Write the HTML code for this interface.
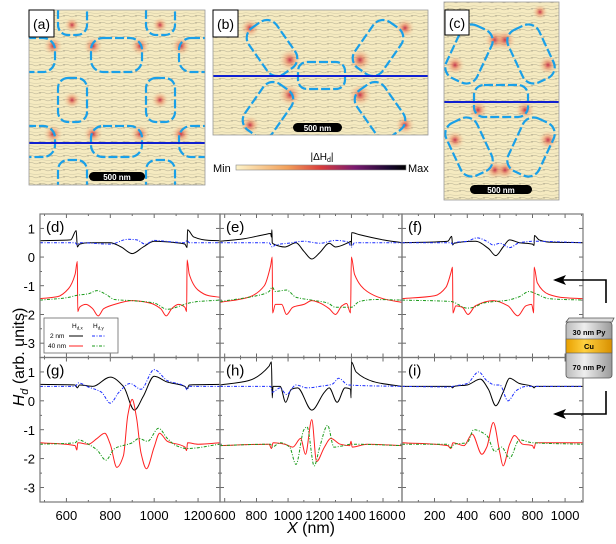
<!DOCTYPE html>
<html><head><meta charset="utf-8"><style>
html,body{margin:0;padding:0;background:#fff;width:616px;height:544px;overflow:hidden;font-family:"Liberation Sans",sans-serif}
</style></head><body>
<svg id="fig" width="616" height="544" viewBox="0 0 616 544" xmlns="http://www.w3.org/2000/svg" font-family="Liberation Sans, sans-serif">
<defs>
<pattern id="stream" width="12" height="7" patternUnits="userSpaceOnUse">
<path d="M0 3 Q6 0 12 3" fill="none" stroke="#6a6a5a" stroke-width="0.5" opacity="0.5"/>
<path d="M0 6.5 Q6 5 12 6.5" fill="none" stroke="#6a6a5a" stroke-width="0.4" opacity="0.35"/>
<circle cx="4" cy="2" r="0.5" fill="#222" opacity="0.6"/>
</pattern>
<radialGradient id="glow"><stop offset="0" stop-color="#c02040" stop-opacity="0.9"/><stop offset="0.4" stop-color="#e8704a" stop-opacity="0.45"/><stop offset="1" stop-color="#f3e3b0" stop-opacity="0"/></radialGradient>
<linearGradient id="cbar" x1="0" x2="1"><stop offset="0" stop-color="#fdf3c8"/><stop offset="0.3" stop-color="#f2a05a"/><stop offset="0.5" stop-color="#d83c3c"/><stop offset="0.7" stop-color="#7a1a70"/><stop offset="0.9" stop-color="#1a0830"/><stop offset="1" stop-color="#000"/></linearGradient>
<linearGradient id="cyl" x1="0" x2="1"><stop offset="0" stop-color="#bbb"/><stop offset="0.4" stop-color="#eee"/><stop offset="1" stop-color="#999"/></linearGradient>
<linearGradient id="cu" x1="0" x2="1"><stop offset="0" stop-color="#e8a000"/><stop offset="0.4" stop-color="#ffd040"/><stop offset="1" stop-color="#d89000"/></linearGradient>
<clipPath id="clipA"><rect x="29" y="10" width="176" height="175"/></clipPath>
<clipPath id="clipB"><rect x="213" y="10" width="215" height="125"/></clipPath>
<clipPath id="clipC"><rect x="444" y="2" width="115" height="198"/></clipPath>
</defs>

<!-- Top images -->
<g id="imgA">
<g clip-path="url(#clipA)">
<rect x="29" y="10" width="176" height="175" fill="#f5eac0"/>
<rect x="29" y="10" width="176" height="175" fill="url(#stream)"/>
<g fill="url(#glow)">
<circle cx="93" cy="46" r="10"/><circle cx="140" cy="46" r="10"/><circle cx="93" cy="134" r="10"/><circle cx="140" cy="134" r="10"/>
<circle cx="53" cy="46" r="10"/><circle cx="181" cy="46" r="10"/><circle cx="53" cy="134" r="10"/><circle cx="181" cy="134" r="10"/>
<circle cx="72" cy="100" r="9"/><circle cx="160" cy="100" r="9"/><circle cx="72" cy="25" r="8"/><circle cx="160" cy="25" r="8"/>
</g>
<g fill="none" stroke="#1aa0e8" stroke-width="2.2" stroke-dasharray="9,3">
<rect x="58" y="2" width="29" height="33" rx="10"/><rect x="146" y="2" width="29" height="33" rx="10"/>
<rect x="91" y="38" width="51" height="34" rx="12"/><rect x="3" y="38" width="52" height="34" rx="12"/><rect x="179" y="38" width="52" height="34" rx="12"/>
<rect x="58" y="78" width="29" height="44" rx="10"/><rect x="146" y="78" width="29" height="44" rx="10"/>
<rect x="91" y="126" width="51" height="31" rx="12"/><rect x="3" y="126" width="52" height="31" rx="12"/><rect x="179" y="126" width="52" height="31" rx="12"/>
<rect x="58" y="160" width="29" height="40" rx="10"/><rect x="146" y="160" width="29" height="40" rx="10"/>
</g>
<line x1="29" y1="143" x2="205" y2="143" stroke="#1020d0" stroke-width="2"/>
</g>
<rect x="29" y="10" width="176" height="175" fill="none" stroke="#999" stroke-width="0.8"/>
<rect x="89" y="172" width="56" height="9" rx="4.5" fill="#000"/>
<text x="117" y="180" font-size="8" font-weight="bold" fill="#fff" text-anchor="middle">500 nm</text>
<rect x="29" y="10" width="25" height="27" fill="#fff" stroke="#000" stroke-width="1"/>
<text x="41.5" y="29" font-size="14" text-anchor="middle">(a)</text>
</g>

<g id="imgB">
<g clip-path="url(#clipB)">
<rect x="213" y="10" width="215" height="125" fill="#f5eac0"/>
<rect x="213" y="10" width="215" height="125" fill="url(#stream)"/>
<g fill="url(#glow)">
<circle cx="290" cy="60" r="12"/><circle cx="360" cy="60" r="12"/><circle cx="290" cy="95" r="12"/><circle cx="360" cy="95" r="12"/>
<circle cx="250" cy="28" r="10"/><circle cx="405" cy="28" r="10"/><circle cx="250" cy="125" r="10"/><circle cx="405" cy="125" r="10"/>
</g>
<g fill="none" stroke="#1aa0e8" stroke-width="2.2" stroke-dasharray="9,3">
<rect x="255" y="20" width="34" height="56" rx="12" transform="rotate(-35 272 48)"/>
<rect x="361" y="20" width="34" height="56" rx="12" transform="rotate(35 378 48)"/>
<rect x="251" y="82" width="34" height="56" rx="12" transform="rotate(35 268 110)"/>
<rect x="363" y="82" width="34" height="56" rx="12" transform="rotate(-35 380 110)"/>
<rect x="298" y="62" width="47" height="27" rx="9"/>
</g>
<line x1="213" y1="76" x2="428" y2="76" stroke="#1020d0" stroke-width="2"/>
</g>
<rect x="213" y="10" width="215" height="125" fill="none" stroke="#999" stroke-width="0.8"/>
<rect x="293" y="123" width="49" height="9" rx="4.5" fill="#000"/>
<text x="317.5" y="131" font-size="8" font-weight="bold" fill="#fff" text-anchor="middle">500 nm</text>
<rect x="213" y="10" width="25" height="27" fill="#fff" stroke="#000" stroke-width="1"/>
<text x="225.5" y="29" font-size="14" text-anchor="middle">(b)</text>
</g>

<g id="colorbar">
<text x="322" y="160" font-size="10" text-anchor="middle">|ΔH<tspan font-size="7" dy="2">d</tspan><tspan dy="-2">|</tspan></text>
<text x="213" y="172" font-size="11">Min</text>
<rect x="236" y="165" width="170" height="5" fill="url(#cbar)" stroke="#888" stroke-width="0.6"/>
<text x="408" y="172" font-size="11">Max</text>
</g>

<g id="imgC">
<g clip-path="url(#clipC)">
<rect x="444" y="2" width="115" height="198" fill="#f5eac0"/>
<rect x="444" y="2" width="115" height="198" fill="url(#stream)"/>
<g fill="url(#glow)">
<circle cx="495" cy="40" r="11"/><circle cx="505" cy="40" r="11"/><circle cx="455" cy="65" r="10"/><circle cx="548" cy="65" r="10"/>
<circle cx="478" cy="110" r="10"/><circle cx="525" cy="110" r="10"/><circle cx="455" cy="140" r="10"/><circle cx="548" cy="140" r="10"/>
<circle cx="495" cy="170" r="10"/><circle cx="505" cy="170" r="10"/><circle cx="540" cy="12" r="8"/>
</g>
<g fill="none" stroke="#1aa0e8" stroke-width="2.2" stroke-dasharray="9,3">
<rect x="452" y="25" width="34" height="58" rx="12" transform="rotate(25 469 54)"/>
<rect x="514" y="25" width="34" height="58" rx="12" transform="rotate(-25 531 54)"/>
<rect x="474" y="85" width="54" height="32" rx="10"/>
<rect x="452" y="118" width="34" height="58" rx="12" transform="rotate(-25 469 147)"/>
<rect x="514" y="118" width="34" height="58" rx="12" transform="rotate(25 531 147)"/>
</g>
<line x1="444" y1="102" x2="559" y2="102" stroke="#1020d0" stroke-width="2"/>
</g>
<rect x="444" y="2" width="115" height="198" fill="none" stroke="#999" stroke-width="0.8"/>
<rect x="470" y="185" width="62" height="9" rx="4.5" fill="#000"/>
<text x="501" y="193" font-size="8" font-weight="bold" fill="#fff" text-anchor="middle">500 nm</text>
<rect x="445" y="10" width="24" height="25" fill="#fff" stroke="#000" stroke-width="1"/>
<text x="457" y="28" font-size="14" text-anchor="middle">(c)</text>
</g>

<g id="plots"></g>

<text transform="translate(24 357) rotate(-90)" font-size="16" text-anchor="middle"><tspan font-style="italic">H</tspan><tspan font-style="italic" font-size="11" dy="4">d</tspan><tspan dy="-4"> (arb. units)</tspan></text>
<text x="311" y="533" font-size="16" text-anchor="middle"><tspan font-style="italic">X</tspan> (nm)</text>

<g id="legend">
<rect x="44" y="318" width="74" height="35" fill="#fff" stroke="#666" stroke-width="0.8"/>
<text x="72" y="328" font-size="6.5">H<tspan font-size="4.5" dy="1.5">d,x</tspan></text>
<text x="93" y="328" font-size="6.5">H<tspan font-size="4.5" dy="1.5">d,y</tspan></text>
<text x="50" y="338" font-size="6.5">2 nm</text>
<line x1="69" y1="336" x2="83" y2="336" stroke="#000" stroke-width="1"/>
<line x1="92" y1="336" x2="106" y2="336" stroke="#1a2cff" stroke-width="1" stroke-dasharray="3,1.5,1,1.5"/>
<text x="48" y="348" font-size="6.5">40 nm</text>
<line x1="69" y1="346" x2="83" y2="346" stroke="#ff2020" stroke-width="1"/>
<line x1="92" y1="346" x2="106" y2="346" stroke="#1a9a1a" stroke-width="1" stroke-dasharray="3,1.5,1,1.5"/>
</g>

<g id="stack">
<path d="M555 280 H606 V303" fill="none" stroke="#000" stroke-width="1.6"/>
<path d="M553 280 L566 275 L563 280 L566 285 Z" fill="#000"/>
<path d="M555 414 H606 V391" fill="none" stroke="#000" stroke-width="1.6"/>
<path d="M553 414 L566 409 L563 414 L566 419 Z" fill="#000"/>
<path d="M566 322 L569 318 H614 L612 322 Z" fill="#ddd" stroke="#555" stroke-width="0.8"/>
<rect x="566" y="322" width="46" height="56" rx="3" fill="url(#cyl)" stroke="#555" stroke-width="0.8"/>
<rect x="566" y="339" width="46" height="14" fill="url(#cu)" stroke="#555" stroke-width="0.6"/>
<text x="589" y="335" font-size="7.5" font-weight="bold" text-anchor="middle">30 nm Py</text>
<text x="589" y="349" font-size="7.5" font-weight="bold" text-anchor="middle">Cu</text>
<text x="589" y="370" font-size="7.5" font-weight="bold" text-anchor="middle">70 nm Py</text>
</g>
</svg>
<script>
// ---- chart data ----
const panelLabels = ["(d)","(e)","(f)","(g)","(h)","(i)"];
const xRanges = [[480,1300],[570,1720],[0,1110],[480,1300],[570,1720],[0,1110]];
const xTicks = [[600,800,1000,1200],[600,800,1000,1200,1400,1600],[0,200,400,600,800,1000],[600,800,1000,1200],[600,800,1000,1200,1400,1600],[0,200,400,600,800,1000]];
const yTicks = [1,0,-1,-2,-3];
const yRange = [-3.5,1.5];
const blackD = [[480,0.57],[620,0.6],[645,0.92],[650,0.35],[660,0.45],[700,0.5],[800,0.5],[850,0.35],[900,0.12],[950,0.35],[1000,0.55],[1100,0.5],[1140,0.45],[1150,0.33],[1152,0.95],[1180,0.7],[1250,0.58],[1300,0.57]];
const blueD = [[480,0.5],[640,0.5],[650,0.42],[660,0.5],[800,0.45],[880,0.62],[920,0.6],[960,0.45],[1000,0.58],[1050,0.55],[1140,0.5],[1150,0.58],[1160,0.5],[1300,0.5]];
const redD = [[480,-1.45],[560,-1.38],[610,-1.1],[640,-0.6],[650,-0.15],[652,-1.9],[660,-1.75],[690,-1.65],[720,-1.8],[745,-2.05],[770,-1.8],[820,-1.65],[900,-1.52],[980,-1.6],[1030,-1.8],[1055,-2.05],[1080,-1.8],[1110,-1.65],[1140,-1.75],[1148,-1.9],[1150,-0.1],[1160,-0.6],[1200,-1.15],[1250,-1.35],[1300,-1.4]];
const greenD = [[480,-1.5],[600,-1.42],[650,-1.33],[700,-1.28],[740,-1.17],[780,-1.3],[820,-1.48],[900,-1.52],[1000,-1.6],[1060,-1.82],[1120,-1.7],[1150,-1.62],[1200,-1.55],[1300,-1.5]];

const blackE = [[570,0.55],[700,0.62],[850,0.78],[890,0.82],[895,0.7],[898,0.95],[900,0.5],[910,0.45],[980,0.35],[1050,0.5],[1100,0.2],[1150,-0.07],[1200,0.15],[1260,0.48],[1300,0.35],[1380,0.5],[1398,0.55],[1400,0.4],[1402,0.85],[1450,0.78],[1600,0.6],[1720,0.5]];
const blueE = [[570,0.5],[880,0.5],[900,0.35],[920,0.42],[1000,0.48],[1100,0.55],[1200,0.48],[1300,0.58],[1380,0.52],[1400,0.35],[1420,0.5],[1720,0.5]];
const redE = [[570,-1.58],[750,-1.4],[850,-1.0],[890,-0.3],[900,0.0],[902,-1.95],[920,-1.65],[960,-1.65],[990,-2.0],[1030,-1.75],[1100,-1.65],[1150,-1.52],[1200,-1.6],[1260,-1.8],[1300,-2.0],[1340,-1.7],[1370,-1.62],[1395,-1.95],[1400,0.0],[1420,-0.6],[1500,-1.2],[1600,-1.45],[1720,-1.58]];
const greenE = [[570,-1.55],[800,-1.35],[880,-1.2],[900,-1.05],[920,-1.2],[990,-1.15],[1050,-1.4],[1150,-1.5],[1250,-1.6],[1300,-1.75],[1350,-1.75],[1400,-1.75],[1450,-1.55],[1550,-1.48],[1720,-1.5]];

const blackF = [[0,0.5],[280,0.55],[305,0.72],[310,0.42],[320,0.48],[450,0.55],[530,0.3],[575,0.05],[620,0.35],[660,0.6],[720,0.5],[800,0.45],[810,0.4],[812,0.75],[840,0.6],[900,0.52],[1110,0.5]];
const blueF = [[0,0.5],[300,0.5],[310,0.45],[320,0.5],[400,0.55],[460,0.67],[520,0.55],[560,0.42],[600,0.48],[660,0.33],[720,0.5],[810,0.55],[1110,0.5]];
const redF = [[0,-1.45],[200,-1.35],[270,-1.05],[300,-0.55],[310,-0.35],[312,-1.95],[330,-1.7],[370,-1.75],[405,-2.0],[450,-1.7],[560,-1.52],[650,-1.7],[710,-2.05],[760,-1.7],[795,-1.65],[808,-1.95],[810,-0.35],[830,-0.9],[900,-1.3],[1000,-1.42],[1110,-1.45]];
const greenF = [[0,-1.5],[300,-1.55],[400,-1.78],[440,-1.75],[500,-1.6],[650,-1.5],[720,-1.38],[780,-1.2],[830,-1.3],[900,-1.45],[1110,-1.5]];

const blackG = [[480,0.57],[640,0.55],[650,0.45],[660,0.55],[720,0.5],[800,0.82],[860,0.5],[910,-0.32],[950,0.15],[1000,0.85],[1060,0.65],[1140,0.5],[1150,0.42],[1160,0.55],[1300,0.57]];
const blueG = [[480,0.5],[640,0.5],[655,0.62],[700,0.48],[760,0.3],[800,-0.08],[840,0.3],[890,0.6],[940,0.4],[1000,1.08],[1060,0.7],[1140,0.5],[1150,0.38],[1160,0.5],[1300,0.5]];
const redG = [[480,-1.45],[640,-1.55],[648,-1.7],[652,-1.45],[700,-1.5],[740,-1.3],[775,-1.12],[800,-1.5],[830,-2.3],[860,-1.9],[880,-0.5],[900,0.05],[920,-0.6],[940,-1.8],[965,-2.35],[1000,-1.6],[1025,-1.12],[1060,-1.4],[1140,-1.6],[1148,-1.72],[1152,-1.45],[1200,-1.5],[1300,-1.45]];
const greenG = [[480,-1.5],[640,-1.45],[655,-1.35],[700,-1.5],[740,-1.7],[780,-2.05],[820,-1.65],[900,-1.45],[930,-1.3],[970,-1.4],[1020,-0.95],[1060,-1.3],[1100,-1.55],[1150,-1.65],[1300,-1.5]];

const blackH = [[570,0.55],[750,0.7],[880,1.2],[895,1.35],[900,0.1],[905,0.5],[950,0.5],[985,-0.05],[1020,0.4],[1060,0.45],[1150,-0.32],[1230,0.3],[1260,0.45],[1310,-0.05],[1360,0.45],[1395,0.4],[1398,0.1],[1400,1.35],[1430,1.0],[1550,0.65],[1720,0.5]];
const blueH = [[570,0.5],[890,0.5],[900,0.3],[950,0.45],[990,0.22],[1050,0.55],[1120,0.45],[1200,0.5],[1280,0.58],[1320,0.78],[1380,0.55],[1720,0.5]];
const redH = [[570,-1.55],[880,-1.5],[895,-1.65],[905,-1.45],[980,-1.5],[1030,-1.6],[1080,-1.3],[1110,-1.85],[1150,-0.65],[1180,-2.1],[1230,-1.6],[1270,-1.3],[1330,-1.5],[1390,-1.55],[1398,-1.4],[1405,-1.6],[1500,-1.5],[1720,-1.55]];
const greenH = [[570,-1.55],[890,-1.5],[900,-1.6],[950,-1.45],[1010,-1.6],[1050,-2.2],[1100,-1.0],[1120,-0.9],[1165,-2.25],[1200,-1.6],[1250,-0.85],[1290,-1.6],[1350,-1.55],[1400,-1.5],[1720,-1.55]];

const blackI = [[0,0.5],[300,0.5],[310,0.45],[320,0.5],[400,0.55],[480,0.75],[530,0.4],[575,-0.17],[620,0.3],[660,0.78],[720,0.6],[800,0.5],[810,0.45],[820,0.5],[1110,0.5]];
const blueI = [[0,0.5],[300,0.48],[310,0.5],[400,0.6],[470,1.0],[520,0.7],[570,0.55],[600,0.55],[650,0.0],[700,0.35],[760,0.5],[810,0.5],[1110,0.5]];
const redI = [[0,-1.45],[280,-1.55],[300,-1.65],[312,-1.45],[380,-1.55],[430,-1.15],[490,-1.85],[520,-1.6],[560,-0.75],[600,-1.8],[620,-2.25],[660,-1.5],[690,-1.2],[740,-1.5],[800,-1.55],[810,-1.65],[820,-1.45],[900,-1.45],[1110,-1.45]];
const greenI = [[0,-1.5],[280,-1.5],[300,-1.62],[320,-1.5],[400,-1.45],[440,-1.0],[520,-1.2],[570,-1.75],[610,-1.6],[660,-1.98],[720,-1.35],[800,-1.45],[1110,-1.5]];

const panelSeries = [[blackD,blueD,redD,greenD],[blackE,blueE,redE,greenE],[blackF,blueF,redF,greenF],[blackG,blueG,redG,greenG],[blackH,blueH,redH,greenH],[blackI,blueI,redI,greenI]];
const seriesNames = ["hx-2nm","hy-2nm","hx-40nm","hy-40nm"];

// ---- layout ----
const NS="http://www.w3.org/2000/svg";
const colX=[[40,220],[220,402],[402,583]];
const rowY=[[214,357.5],[357.5,502]];
const colors=["#000","#1a2cff","#ff2020","#1a9a1a"];
const dashes=[null,"3,1.5,1,1.5",null,"3,1.5,1,1.5"];
const root=document.getElementById('plots');
function mk(tag,attrs,parent){const e=document.createElementNS(NS,tag);for(const k in attrs)e.setAttribute(k,attrs[k]);parent.appendChild(e);return e;}
// monotone cubic path (no overshoot)
function monoPath(P){
  const n=P.length; if(n<2) return '';
  const dx=[],m=[],t=new Array(n);
  for(let i=0;i<n-1;i++){dx[i]=P[i+1][0]-P[i][0];m[i]=(P[i+1][1]-P[i][1])/(dx[i]||1e-6);}
  t[0]=m[0];t[n-1]=m[n-2];
  for(let i=1;i<n-1;i++){t[i]=(m[i-1]*m[i]<=0)?0:(3*(dx[i-1]+dx[i]))/((2*dx[i]+dx[i-1])/m[i-1]+(dx[i]+2*dx[i-1])/m[i]);}
  let d='M'+P[0][0].toFixed(2)+' '+P[0][1].toFixed(2);
  for(let i=0;i<n-1;i++){
    const h=dx[i]/3;
    d+=' C'+(P[i][0]+h).toFixed(2)+' '+(P[i][1]+t[i]*h).toFixed(2)+' '+(P[i+1][0]-h).toFixed(2)+' '+(P[i+1][1]-t[i+1]*h).toFixed(2)+' '+P[i+1][0].toFixed(2)+' '+P[i+1][1].toFixed(2);
  }
  return d;
}

for(let p=0;p<6;p++){
  const c=p%3,r=Math.floor(p/3);
  const [x0,x1]=colX[c],[y0,y1]=rowY[r];
  const [dmin,dmax]=xRanges[p];
  const sx=v=>x0+(v-dmin)/(dmax-dmin)*(x1-x0);
  const sy=v=>y0+(yRange[1]-v)/(yRange[1]-yRange[0])*(y1-y0);
  const g=mk('g',{},root);
  
  
  const cp='clip'+p;
  const cl=mk('clipPath',{id:cp},g);mk('rect',{x:x0,y:y0,width:x1-x0,height:y1-y0},cl);
  for(let v=-3.5;v<=1.5;v+=0.5){
    const major=Math.abs(v-Math.round(v))<1e-6;
    const len=major?4:2;
    mk('line',{x1:x0,x2:x0+len,y1:sy(v),y2:sy(v),stroke:'#444','stroke-width':0.8},g);
    mk('line',{x1:x1,x2:x1-len,y1:sy(v),y2:sy(v),stroke:'#444','stroke-width':0.8},g);
  }
  if(c===0){
    yTicks.forEach(v=>{
      const t=mk('text',{x:x0-5,y:sy(v)+5,'font-size':13,'text-anchor':'end'},g);
      
      
      t.textContent=v<0?'-'+Math.abs(v):String(v);
    });
  }
  const step=(xTicks[p][1]-xTicks[p][0])/2;
  for(let v=Math.ceil(dmin/step)*step;v<=dmax;v+=step){
    const major=xTicks[p].includes(v);
    const len=major?4:2;
    mk('line',{x1:sx(v),x2:sx(v),y1:y1,y2:y1-len,stroke:'#444','stroke-width':0.8},g);
    mk('line',{x1:sx(v),x2:sx(v),y1:y0,y2:y0+len,stroke:'#444','stroke-width':0.8},g);
  }
  if(r===1){
    xTicks[p].forEach(v=>{
      const t=mk('text',{x:sx(v),y:y1+18,'font-size':13,'text-anchor':'middle'},g);
      
      
      t.textContent=String(v);
    });
  }
  panelSeries[p].forEach((pts,si)=>{
    const d=monoPath(pts.map(q=>[sx(q[0]),sy(q[1])]));
    const a={d:d,fill:'none',stroke:colors[si],'stroke-width':1,'clip-path':'url(#'+cp+')','stroke-linejoin':'round'};
    if(dashes[si])a['stroke-dasharray']=dashes[si];
    const path=mk('path',a,g);
    
    
  });
  const lab=mk('text',{x:x0+6,y:y0+18,'font-size':15},g);
  
  
  lab.textContent=panelLabels[p];
  mk('rect',{x:x0,y:y0,width:x1-x0,height:y1-y0,fill:'none',stroke:'#777','stroke-width':1.2},g);
}
document.getElementById('fig').appendChild(document.getElementById('legend'));
document.getElementById('fig').appendChild(document.getElementById('stack'));
</script>
</body></html>
